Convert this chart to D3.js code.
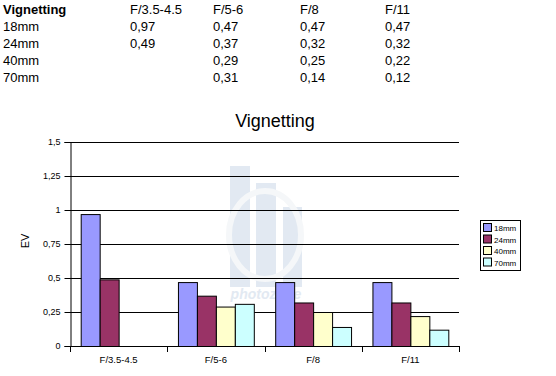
<!DOCTYPE html>
<html><head><meta charset="utf-8">
<script src="https://cdn.jsdelivr.net/npm/d3@7"></script>
<style>body{margin:0;background:#fff}svg{display:block;font-family:"Liberation Sans",Arial,sans-serif}</style>
</head><body><svg id="c" width="556" height="376"></svg>
<script>
const categories = ["F/3.5-4.5", "F/5-6", "F/8", "F/11"];
const seriesNames = ["18mm", "24mm", "40mm", "70mm"];
const v18 = [0.97, 0.47, 0.47, 0.47];
const v24 = [0.49, 0.37, 0.32, 0.32];
const v40 = [null, 0.29, 0.25, 0.22];
const v70 = [null, 0.31, 0.14, 0.12];
const yTicks = [0, 0.25, 0.5, 0.75, 1, 1.25, 1.5];
const colors = ["#9999FF", "#993366", "#FFFFCC", "#CCFFFF"];
const allSeries = [v18, v24, v40, v70];

const svg = d3.select("#c");
const fmt = d => String(d).replace(".", ",");
const fmt2 = d => d == null ? "" : d.toFixed(2).replace(".", ",");

// table
const colX = [3, 130, 213, 300, 385];
const rowY = [14, 31, 48, 65, 82];
const tbl = svg.append("g").attr("font-size", 13).attr("fill", "#000");
tbl.append("text").attr("x", colX[0]).attr("y", rowY[0]).attr("font-weight", "bold").text("Vignetting");
categories.forEach((c, j) => tbl.append("text").attr("x", colX[j + 1]).attr("y", rowY[0]).text(c));
seriesNames.forEach((s, i) => {
  tbl.append("text").attr("x", colX[0]).attr("y", rowY[i + 1]).text(s);
  allSeries[i].forEach((v, j) => tbl.append("text").attr("x", colX[j + 1]).attr("y", rowY[i + 1]).text(fmt2(v)));
});

// chart
const L = 70, R = 459, T = 142, B = 346;
const y = d3.scaleLinear().domain([0, 1.5]).range([B, T]);
const x0 = d3.scaleBand().domain(categories).range([L, R]);
const gap = x0.bandwidth() * 0.11;
const x1 = d3.scaleBand().domain(seriesNames).range([gap, x0.bandwidth() - gap]);

// watermark
const wm = svg.append("g").attr("opacity", 0.85);
wm.append("rect").attr("x", 230).attr("y", 166).attr("width", 20).attr("height", 121).attr("fill", "#dde6f0");
wm.append("rect").attr("x", 256).attr("y", 183).attr("width", 20).attr("height", 104).attr("fill", "#dde6f0");
wm.append("rect").attr("x", 283).attr("y", 207).attr("width", 19).attr("height", 80).attr("fill", "#dde6f0");
wm.append("ellipse").attr("cx", 265).attr("cy", 235).attr("rx", 36).attr("ry", 44).attr("fill", "none").attr("stroke", "#f4f6f8").attr("stroke-width", 6);
wm.append("text").attr("x", 266).attr("y", 299).attr("text-anchor", "middle").attr("font-size", 14).attr("font-style", "italic").attr("font-weight", "bold").attr("fill", "#dde6f0").text("photozone");

// gridlines
svg.append("g").selectAll("line").data(yTicks.filter(d => d > 0)).join("line")
  .attr("x1", L).attr("x2", R).attr("y1", d => y(d) + 0.5).attr("y2", d => y(d) + 0.5)
  .attr("stroke", "#000").attr("stroke-width", 1);

// y axis
const ya = svg.append("g").attr("transform", `translate(${L + 0.5},0)`)
  .call(d3.axisLeft(y).tickValues(yTicks).tickFormat(fmt).tickSize(6).tickPadding(4));
ya.select(".domain").attr("stroke", "#000");
ya.selectAll(".tick line").attr("stroke", "#000");
ya.selectAll("text").attr("font-size", 9).attr("font-family", "Liberation Sans, Arial").attr("fill", "#000");

// bars
const g = svg.append("g");
categories.forEach((c, j) => {
  seriesNames.forEach((s, i) => {
    const v = allSeries[i][j];
    if (v == null) return;
    g.append("rect")
      .attr("x", x0(c) + x1(s) + 0.5).attr("y", y(v) + 0.5)
      .attr("width", x1.bandwidth()).attr("height", y(0) - y(v))
      .attr("fill", colors[i]).attr("stroke", "#000").attr("stroke-width", 1);
  });
});

// x axis
const xa = svg.append("g").attr("transform", `translate(0,${B + 0.5})`)
  .call(d3.axisBottom(x0).tickSize(0).tickPadding(10));
xa.select(".domain").attr("stroke", "#000").attr("d", `M${L},0H${R}`);
xa.selectAll("text").attr("font-size", 9.5).attr("font-family", "Liberation Sans, Arial").attr("fill", "#000");
svg.append("g").selectAll("line").data(categories.concat(["end"])).join("line")
  .attr("x1", (d, i) => Math.round(L + i * x0.step()) + 0.5).attr("x2", (d, i) => Math.round(L + i * x0.step()) + 0.5)
  .attr("y1", B).attr("y2", B + 6).attr("stroke", "#000");

// title
svg.append("text").attr("x", 275).attr("y", 127).attr("text-anchor", "middle").attr("font-size", 18).text("Vignetting");
// y label
svg.append("text").attr("transform", "translate(29,241) rotate(-90)").attr("text-anchor", "middle").attr("font-size", 11).text("EV");

// legend
const lg = svg.append("g");
lg.append("rect").attr("x", 480.5).attr("y", 220.5).attr("width", 40).attr("height", 50).attr("fill", "#fff").attr("stroke", "#000");
seriesNames.forEach((s, i) => {
  const yy = 223 + i * 11.5;
  lg.append("rect").attr("x", 483.5).attr("y", yy + 0.5).attr("width", 8).attr("height", 8).attr("fill", colors[i]).attr("stroke", "#000");
  lg.append("text").attr("x", 494).attr("y", yy + 8).attr("font-size", 8).text(s);
});
</script></body></html>
